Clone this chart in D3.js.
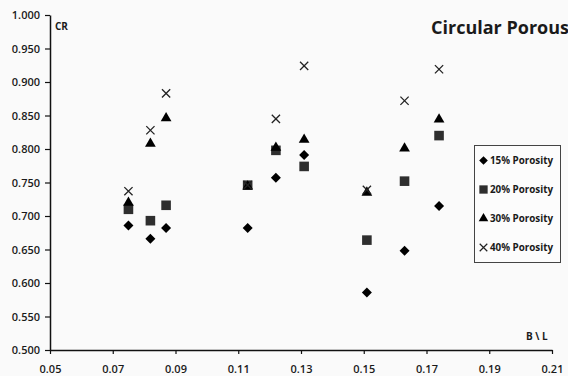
<!DOCTYPE html>
<html>
<head>
<meta charset="utf-8">
<script src="https://cdn.jsdelivr.net/npm/d3@7/dist/d3.min.js"></script>
<style>
  html, body { margin: 0; padding: 0; background: #fafafa; }
  svg { display: block; }
  text { font-family: "Open Sans", "Liberation Sans", sans-serif; fill: #1a1a1a; }
</style>
</head>
<body>
<svg id="chart" width="568" height="376"></svg>
<script>
// B/L ratios of the nine tested configurations
const ratioBL = [0.075, 0.082, 0.087, 0.113, 0.122, 0.131, 0.151, 0.163, 0.174];

// CR values per porosity level
const porosity15 = [0.686, 0.666, 0.682, 0.682, 0.757, 0.791, 0.586, 0.648, 0.715];
const porosity20 = [0.710, 0.693, 0.716, 0.746, 0.798, 0.774, 0.664, 0.752, 0.820];
const porosity30 = [0.720, 0.808, 0.846, 0.744, 0.802, 0.814, 0.735, 0.801, 0.844];
const porosity40 = [0.737, 0.828, 0.883, 0.746, 0.845, 0.924, 0.739, 0.872, 0.919];

const seriesNames = ["15% Porosity", "20% Porosity", "30% Porosity", "40% Porosity"];
const xTicks = [0.05, 0.07, 0.09, 0.11, 0.13, 0.15, 0.17, 0.19, 0.21];
const yTicks = [0.500, 0.550, 0.600, 0.650, 0.700, 0.750, 0.800, 0.850, 0.900, 0.950, 1.000];

const svg = d3.select("#chart");
const x = d3.scaleLinear().domain([0.05, 0.21]).range([50, 552]);
const y = d3.scaleLinear().domain([0.5, 1.0]).range([350, 15]);

// marker shapes for each series
const shapes = [
  { type: d3.symbolSquare, size: 50, rotate: 45, fill: "#000", stroke: "none" },
  { type: d3.symbolSquare, size: 92, rotate: 0, fill: "#2e2e2e", stroke: "none" },
  { type: d3.symbolTriangle, size: 50, rotate: 0, fill: "#000", stroke: "none" },
  { type: d3.symbolTimes, size: 46, rotate: 0, fill: "none", stroke: "#222" }
];
const legendScale = [0.75, 0.75, 0.8, 0.85];

// axes
const xAxis = d3.axisBottom(x).tickValues(xTicks).tickFormat(d3.format(".2f"))
  .tickSizeInner(4).tickSizeOuter(0).tickPadding(11);
const yAxis = d3.axisLeft(y).tickValues(yTicks).tickFormat(d3.format(".3f"))
  .tickSizeInner(5).tickSizeOuter(0).tickPadding(5);

const gx = svg.append("g").attr("transform", "translate(0,350)").call(xAxis);
const gy = svg.append("g").attr("transform", "translate(50,0)").call(yAxis);
[gx, gy].forEach(g => {
  g.select(".domain").attr("stroke", "#111").attr("stroke-width", 1.5);
  g.selectAll(".tick line").attr("stroke", "#111").attr("stroke-width", 1.2);
  g.selectAll(".tick text").style("font-family", "'Open Sans', sans-serif")
    .style("font-size", "11px").style("font-weight", 600).attr("fill", "#1a1a1a");
});

// axis titles
svg.append("text").attr("x", 55).attr("y", 30).text("CR")
  .style("font-size", "10px").style("font-weight", 700);
svg.append("text").attr("x", 526).attr("y", 340).text("B \\ L")
  .style("font-size", "10px").style("font-weight", 700);

// chart title
svg.append("text").attr("x", 431).attr("y", 34).text("Circular Porous")
  .style("font-size", "18px").style("font-weight", 700).attr("fill", "#000");

// points
const allSeries = [porosity15, porosity20, porosity30, porosity40];
allSeries.forEach((vals, si) => {
  const s = shapes[si];
  const path = d3.symbol().type(s.type).size(s.size)();
  svg.append("g").selectAll("path").data(vals).join("path")
    .attr("d", path)
    .attr("transform", (d, i) => `translate(${x(ratioBL[i])},${y(d)}) rotate(${s.rotate})`)
    .attr("fill", s.fill)
    .attr("stroke", s.stroke)
    .attr("stroke-width", s.stroke === "none" ? 0 : 1.3);
});

// legend
const lg = svg.append("g");
lg.append("rect").attr("x", 474.5).attr("y", 145.5).attr("width", 86).attr("height", 117)
  .attr("fill", "#fcfcfc").attr("stroke", "#444").attr("stroke-width", 1);
seriesNames.forEach((name, si) => {
  const s = shapes[si];
  const cy = 160.5 + si * 29;
  lg.append("path")
    .attr("d", d3.symbol().type(s.type).size(s.size * legendScale[si])())
    .attr("transform", `translate(483.5,${cy}) rotate(${s.rotate})`)
    .attr("fill", s.fill).attr("stroke", s.stroke)
    .attr("stroke-width", s.stroke === "none" ? 0 : 1.2);
  lg.append("text").attr("x", 490).attr("y", cy + 3.5).text(name)
    .style("font-size", "9.8px").style("font-weight", 700);
});
</script>
</body>
</html>
